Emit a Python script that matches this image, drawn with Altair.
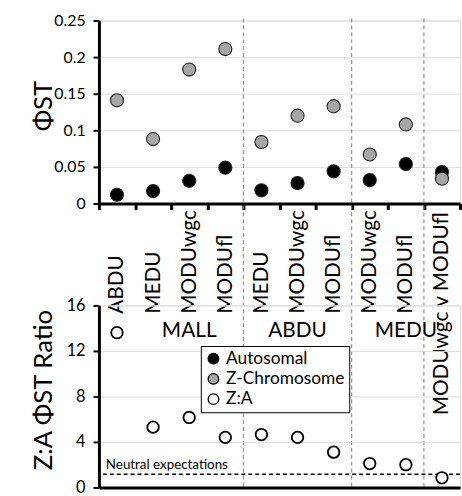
import altair as alt
import pandas as pd

# ---- data ----
groups = ["MALL", "MALL", "MALL", "MALL", "ABDU", "ABDU", "ABDU", "MEDU", "MEDU", "MODUwgc"]
pops = ["ABDU", "MEDU", "MODUwgc", "MODUfl", "MEDU", "MODUwgc", "MODUfl",
        "MODUwgc", "MODUfl", "MODUwgc v MODUfl"]
autosomal = [0.012, 0.017, 0.031, 0.049, 0.018, 0.028, 0.044, 0.032, 0.054, 0.043]
z_chrom = [0.141, 0.088, 0.183, 0.211, 0.084, 0.120, 0.133, 0.067, 0.108, 0.034]
za_ratio = [13.6, 5.3, 6.15, 4.4, 4.65, 4.4, 3.1, 2.1, 2.0, 0.85]
series_names = ["Autosomal", "Z-Chromosome", "Z:A"]
series_colors = ["#000000", "#a6a6a6", "#ffffff"]
neutral_expectation = 1.16
neutral_label = "Neutral expectations"
group_labels = ["MALL", "ABDU", "MEDU"]
group_label_index = [2, 5, 8]       # category at which each group label is anchored
group_label_band = [0.0, 0.5, 0.0]  # position inside that category band
group_label_y = 13.75
phi_ticks = [0, 0.05, 0.1, 0.15, 0.2, 0.25]
ratio_ticks = [0, 4, 8, 12, 16]

# ---- tables ----
ids = [f"{g}|{p}" for g, p in zip(groups, pops)]
top_df = pd.DataFrame(
    {"id": ids * 2,
     "series": [series_names[0]] * len(ids) + [series_names[1]] * len(ids),
     "phi": autosomal + z_chrom})
bot_df = pd.DataFrame({"id": ids, "series": series_names[2], "ratio": za_ratio})
sep_df = pd.DataFrame({"id": [ids[i] for i in range(1, len(ids)) if groups[i] != groups[i - 1]]})
glab_df = pd.DataFrame({"id": [ids[i] for i in group_label_index],
                        "label": group_labels, "band": group_label_band,
                        "y": group_label_y})
neutral_df = pd.DataFrame({"y": [neutral_expectation], "label": [neutral_label]})

FONT = "Lato"
W, H_TOP, H_BOT, GAP = 365, 185, 184, 103

x_scale = alt.Scale(domain=ids, paddingInner=0, paddingOuter=0)
fill_enc = alt.Fill(
    "series:N",
    scale=alt.Scale(domain=series_names, range=series_colors),
    legend=alt.Legend(
        title=None, orient="none", legendX=103, legendY=329,
        fillColor="white", strokeColor="black", padding=4,
        symbolType="circle", symbolSize=115, symbolStrokeColor="black",
        symbolStrokeWidth=1.3, symbolOpacity=1,
        labelFont=FONT, labelFontSize=17.5, labelColor="black", labelOffset=4,
        rowPadding=1.5,
    ),
)

top_x_axis = alt.Axis(
    title=None, labelExpr="split(datum.value, '|')[1]", labelAngle=270,
    labelAlign=alt.condition(f"datum.value == '{ids[-1]}'", alt.value("center"), alt.value("left")),
    labelBaseline="middle", labelPadding=105, labelLimit=0,
    labelFont=FONT, labelFontSize=21, labelColor="black",
    tickBand="extent", tickSize=6, tickWidth=3, tickColor="black",
    domainWidth=3, domainColor="black",
)

def y_axis(title, values, fmt=None, label_size=16, title_y=92):
    kw = dict(
        title=title, values=values, labelFont=FONT, labelFontSize=label_size,
        labelColor="black", labelPadding=8, tickSize=6, tickWidth=2,
        tickColor="black", domainWidth=3, domainColor="black",
        titleFont=FONT, titleFontSize=26, titleFontWeight="normal",
        titleColor="black", titleAngle=270, titleX=-56, titleY=title_y,
        titleAlign="center", titleBaseline="middle",
    )
    if fmt:
        kw["format"] = fmt
    return alt.Axis(**kw)

# ---- top panel ----
separators = alt.Chart(sep_df).mark_rule(
    color="#808080", strokeDash=[4, 3], strokeWidth=1
).encode(
    x=alt.X("id:N", scale=x_scale, bandPosition=0, axis=top_x_axis),
    y=alt.value(-2), y2=alt.value(H_TOP + GAP + H_BOT),
)
top_points = alt.Chart(top_df).mark_circle(
    size=175, opacity=1, stroke="#222222", strokeWidth=1.1
).encode(
    x=alt.X("id:N", scale=x_scale, axis=top_x_axis),
    y=alt.Y("phi:Q", scale=alt.Scale(domain=[0, 0.25], nice=False),
            axis=y_axis("ΦST", phi_ticks, fmt="~g", title_y=86)),
    fill=fill_enc,
)
top = alt.layer(separators, top_points).properties(width=W, height=H_TOP)

# ---- bottom panel ----
bot_x_axis = alt.Axis(title=None, labels=False, ticks=False, domainWidth=3, domainColor="black")
bot_axis = y_axis("Z:A ΦST Ratio", ratio_ticks, label_size=16.5, title_y=85)
bot_y = alt.Y("ratio:Q", scale=alt.Scale(domain=[0, 16], nice=False), axis=bot_axis)

neutral_rule = alt.Chart(neutral_df).mark_rule(
    color="black", strokeDash=[4, 3], strokeWidth=1.4
).encode(y=alt.Y("y:Q", scale=alt.Scale(domain=[0, 16], nice=False), axis=bot_axis))
neutral_text = alt.Chart(neutral_df).mark_text(
    align="left", baseline="middle", dy=-9, font=FONT, fontSize=13.5, color="black"
).encode(x=alt.value(7), y="y:Q", text="label:N")

glab_layers = []
for b in sorted(set(group_label_band)):
    glab_layers.append(
        alt.Chart(glab_df[glab_df["band"] == b]).mark_text(
            font=FONT, fontSize=21, color="black", baseline="middle", align="center"
        ).encode(
            x=alt.X("id:N", scale=x_scale, bandPosition=b, axis=bot_x_axis),
            y=alt.Y("y:Q"),
            text="label:N",
        )
    )

bot_points = alt.Chart(bot_df).mark_circle(
    size=135, opacity=1, stroke="black", strokeWidth=1.8
).encode(
    x=alt.X("id:N", scale=x_scale, axis=bot_x_axis),
    y=bot_y,
    fill=fill_enc,
)
bottom = alt.layer(neutral_rule, neutral_text, *glab_layers, bot_points).properties(
    width=W, height=H_BOT)

chart = alt.vconcat(top, bottom, spacing=GAP, bounds="flush").resolve_scale(
    fill="shared"
).properties(
    padding={"left": 30, "top": 9, "right": 0, "bottom": 5},
    background="white",
).configure_view(stroke=None).configure_axis(grid=False).configure(font=FONT)

chart.save("out.html", embed_options={"renderer": "svg", "actions": False})
